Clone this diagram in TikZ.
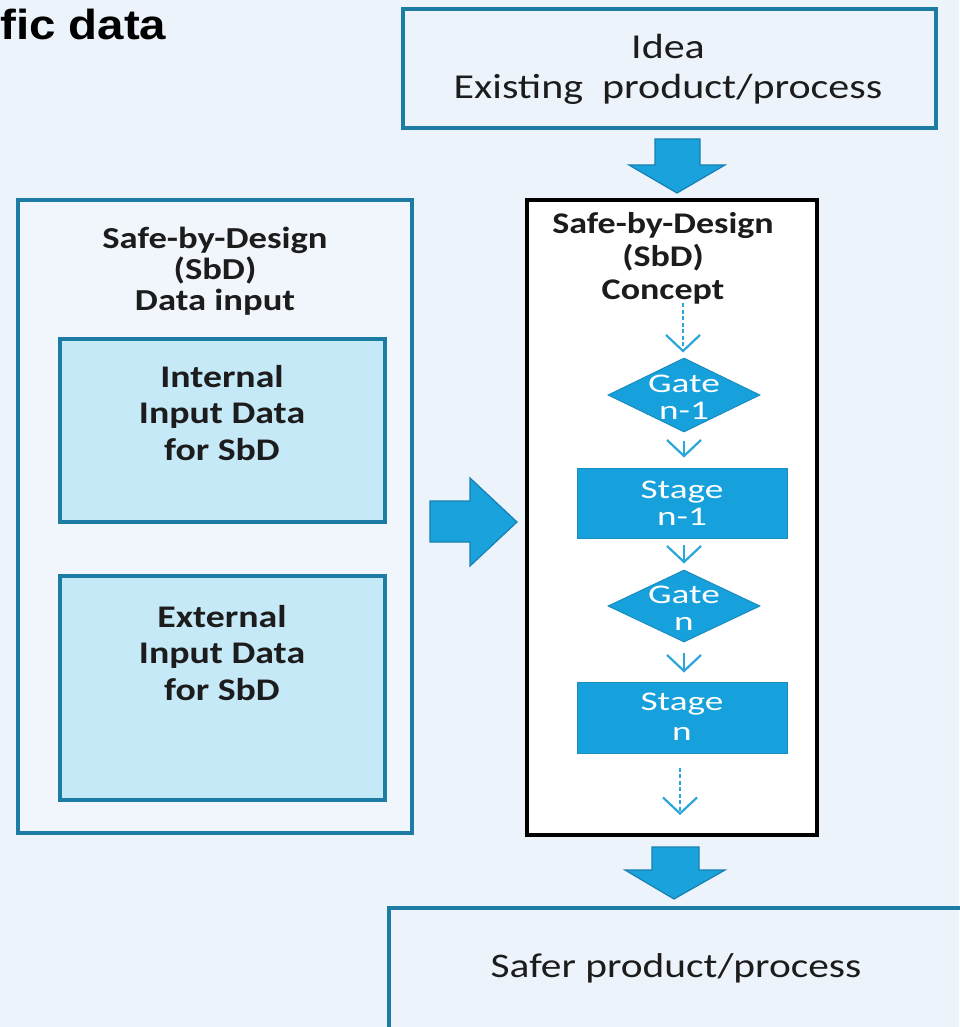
\documentclass[tikz,border=0pt]{standalone}
\usepackage{fontspec}
\setmainfont{Carlito}[FakeStretch=1.2]
\newfontfamily\widefont{Carlito}[FakeStretch=1.38]
\newfontfamily\arialfont{Liberation Sans}[FakeStretch=1.13]
\usetikzlibrary{shapes.geometric,arrows.meta}
\definecolor{bgc}{HTML}{EDF3FA}
\definecolor{innerbg}{HTML}{F1F6FC}
\definecolor{tealc}{HTML}{1D7CA4}
\definecolor{lightfill}{HTML}{C6E9F8}
\definecolor{arrowfill}{HTML}{1AA2DC}
\definecolor{arrowedge}{HTML}{1780B3}
\definecolor{stagefill}{HTML}{16A1DC}
\definecolor{stageedge}{HTML}{1A8CC0}
\definecolor{flowc}{HTML}{2AA6DC}
\definecolor{textc}{HTML}{1C1C1C}
\begin{document}
\begin{tikzpicture}[x=1pt,y=-1pt,
  tealbox/.style={draw=tealc, line width=4pt, inner sep=0pt},
  lightbox/.style={tealbox, fill=lightfill},
  blackbox/.style={draw=black, line width=4pt, fill=white, inner sep=0pt},
  stagebox/.style={draw=stageedge, line width=1pt, fill=stagefill, inner sep=0pt},
  gatebox/.style={diamond, draw=stageedge, line width=1pt, fill=stagefill, inner sep=0pt},
  blockarrow/.style={fill=arrowfill, draw=arrowedge, line width=1.2pt, line join=miter},
  flowarrow/.style={draw=flowc, line width=2.2pt, -{Straight Barb[length=16pt,width=34pt]}},
  flowdash/.style={flowarrow, dash pattern=on 4pt off 2.5pt},
  boldtxt/.style={align=center, text=textc, inner sep=0pt},
  regtxt/.style={align=center, text=textc, inner sep=0pt},
  whitetxt/.style={align=center, text=white, inner sep=0pt, font=\widefont\fontsize{27}{27.5}\selectfont}
]
\useasboundingbox (0,0) rectangle (959,1027);
\fill[bgc] (0,0) rectangle (959,1027);

% heading fragment
\node[anchor=base west, inner sep=0pt, text=black] (head) at (0,40)
  {\arialfont\bfseries\fontsize{42}{46}\selectfont fic data};

% top box
\node[tealbox, minimum width=533, minimum height=119] (idea) at (669.5,68.5) {};
\node[regtxt, font=\fontsize{35}{40}\selectfont] (ideatxt) at (668,69)
  {Idea\\Existing\ \ product/process};

% top block arrow
\draw[blockarrow] (655,139) -- (700,139) -- (700,165) -- (725,165) -- (677,193)
  -- (629,165) -- (655,165) -- cycle;

% left data input box
\node[tealbox, fill=innerbg, minimum width=394, minimum height=633] (datain) at (215,516.5) {};
\node[boldtxt, font=\bfseries\fontsize{30.5}{31}\selectfont] (datatitle) at (215,271)
  {Safe-by-Design\\(SbD)\\Data input};

\node[lightbox, minimum width=325, minimum height=183] (internal) at (222.5,430.5) {};
\node[boldtxt, font=\bfseries\fontsize{31.5}{36.5}\selectfont] (inttxt) at (222,413)
  {Internal\\Input Data\\for SbD};

\node[lightbox, minimum width=325, minimum height=224] (external) at (222.5,688) {};
\node[boldtxt, font=\bfseries\fontsize{31.5}{36.5}\selectfont] (exttxt) at (222,653)
  {External\\Input Data\\for SbD};

% right block arrow
\draw[blockarrow] (430,501) -- (470,501) -- (470,478) -- (517,522) -- (470,566)
  -- (470,542) -- (430,542) -- cycle;

% concept box
\node[blackbox, minimum width=290, minimum height=635] (concept) at (672,517) {};
\node[boldtxt, font=\bfseries\fontsize{30}{33}\selectfont] (concepttxt) at (663,258)
  {Safe-by-Design\\(SbD)\\Concept};

\node[gatebox, minimum width=152, minimum height=74] (g1) at (684,395) {};
\node[whitetxt] (g1txt) at (684,397) {Gate\\n-1};

\node[stagebox, minimum width=210, minimum height=70] (s1) at (682,503) {};
\node[whitetxt] (s1txt) at (682,503) {Stage\\n-1};

\node[gatebox, minimum width=152, minimum height=72] (g2) at (684,606) {};
\node[whitetxt] (g2txt) at (684,608) {Gate\\n};

\node[stagebox, minimum width=210, minimum height=71] (s2) at (682,717.5) {};
\node[whitetxt, font=\widefont\fontsize{27}{30}\selectfont] (s2txt) at (682,717) {Stage\\n};

\coordinate (dstart) at (683,303);
\coordinate (dend) at (680,815);
\draw[flowdash, shorten >=5pt] (dstart) -- (dstart |- g1.north);
\draw[flowarrow, shorten <=8pt, shorten >=10pt] (g1.south) -- (g1.south |- s1.north);
\draw[flowarrow, shorten <=6pt, shorten >=6pt] (s1.south -| g2.north) -- (g2.north);
\draw[flowarrow, shorten <=10pt, shorten >=9pt] (g2.south) -- (g2.south |- s2.north);
\draw[flowdash, shorten <=14pt] (s2.south -| dend) -- (dend);

% bottom block arrow
\draw[blockarrow] (652,847) -- (699,847) -- (699,870) -- (725,870) -- (674,899)
  -- (625,870) -- (652,870) -- cycle;

% bottom box
\node[tealbox, minimum width=600, minimum height=140] (safer) at (689,978) {};
\node[regtxt, font=\fontsize{34.5}{40}\selectfont] (safertxt) at (676,968)
  {Safer product/process};
\end{tikzpicture}
\end{document}
